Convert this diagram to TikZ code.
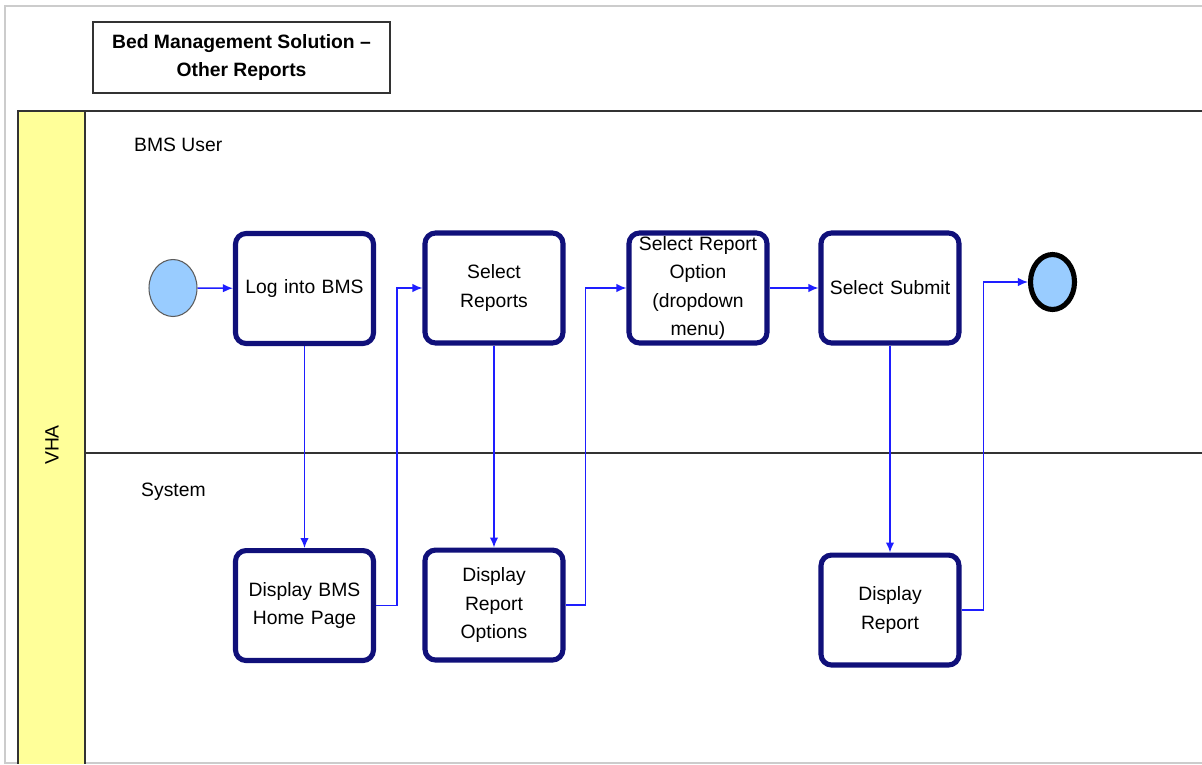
\documentclass[tikz,border=0pt]{standalone}
\usepackage{fontspec}
\setmainfont{Liberation Sans}
\usepackage{xcolor}
\usepackage{tikz}
\usetikzlibrary{arrows.meta, positioning, shapes.geometric}
\definecolor{TaskNavy}{HTML}{10107A}
\definecolor{FlowBlue}{HTML}{1E1EFF}
\definecolor{LaneYellow}{HTML}{FFFF99}
\definecolor{EventBlue}{HTML}{99CCFF}
\definecolor{FrameGray}{HTML}{CCCCCC}
\definecolor{PoolGray}{HTML}{333333}

\begin{document}
\begin{tikzpicture}[x=0.02cm, y=-0.02cm, every node/.style={font=\fontsize{11}{16}\selectfont}]
  \tikzstyle{task}=[rectangle, draw=TaskNavy, line width=2.9pt, rounded corners=6pt, minimum width=2.76cm, minimum height=2.2cm, text width=2.6cm, align=center, fill=white, inner sep=2pt]
  \tikzstyle{arrow}=[-{Latex[length=2mm, width=1.7mm]}, line width=0.9pt, draw=FlowBlue]
  \tikzstyle{event}=[ellipse, minimum width=0.96cm, minimum height=1.14cm, fill=EventBlue, inner sep=0pt]

  \useasboundingbox (0,0) rectangle (1202,764);

  % page frame and pool
  \draw[FrameGray, line width=0.8pt] (1202,6) -- (5,6) -- (5,763) -- (1202,763);
  \fill[LaneYellow] (18,111) rectangle (85,764);
  \draw[PoolGray, line width=0.8pt] (1202,111) -- (18,111) -- (18,764);
  \draw[PoolGray, line width=0.8pt] (85,111) -- (85,764);
  \draw[PoolGray, line width=0.8pt] (85,453) -- (1202,453);

  \node[draw=PoolGray, line width=0.8pt, minimum width=5.94cm, minimum height=1.42cm, align=center, font=\fontsize{11}{16}\selectfont\bfseries] (title) at (241.5,57.5) {Bed Management Solution --\\Other Reports};
  \node[rotate=90] (vha) at (52,445) {VHA};
  \node[anchor=west] (user) at (128,145) {BMS User};
  \node[anchor=west] (system) at (135,492) {System};

  % top lane
  \node[event, draw=PoolGray!80, line width=0.6pt] (start) at (173,288) {};
  \node[task] (login) at (304.5,288.5) {Log into BMS};
  \node[task] (selrep) at (494,288) {Select\\Reports};
  \node[task] (selopt) at (698,288) {Select Report\\Option\\(dropdown\\menu)};
  \node[task] (submit) at (890,288) {Select Submit};
  \node[event, draw=black, line width=2.9pt, minimum width=0.88cm, minimum height=1.1cm] (finish) at (1052.5,282) {};

  % bottom lane
  \node[task, below=4.04cm of login] (home) {Display BMS\\Home Page};
  \node[task, below=4.04cm of selrep] (options) {Display\\Report\\Options};
  \node[task, below=4.14cm of submit] (report) {Display\\Report};

  \draw[arrow] (start) -- (login);
  \draw[arrow] (login) -- (home);
  \draw[arrow] (home.east) -- ++(21,0) |- (selrep.west);
  \draw[arrow] (selrep) -- (options);
  \draw[arrow] (options.east) -- ++(20,0) |- (selopt.west);
  \draw[arrow] (selopt) -- (submit);
  \draw[arrow] (submit) -- (report);
  \draw[arrow] (report.east) -- ++(22,0) |- (finish.west);
\end{tikzpicture}
\end{document}
